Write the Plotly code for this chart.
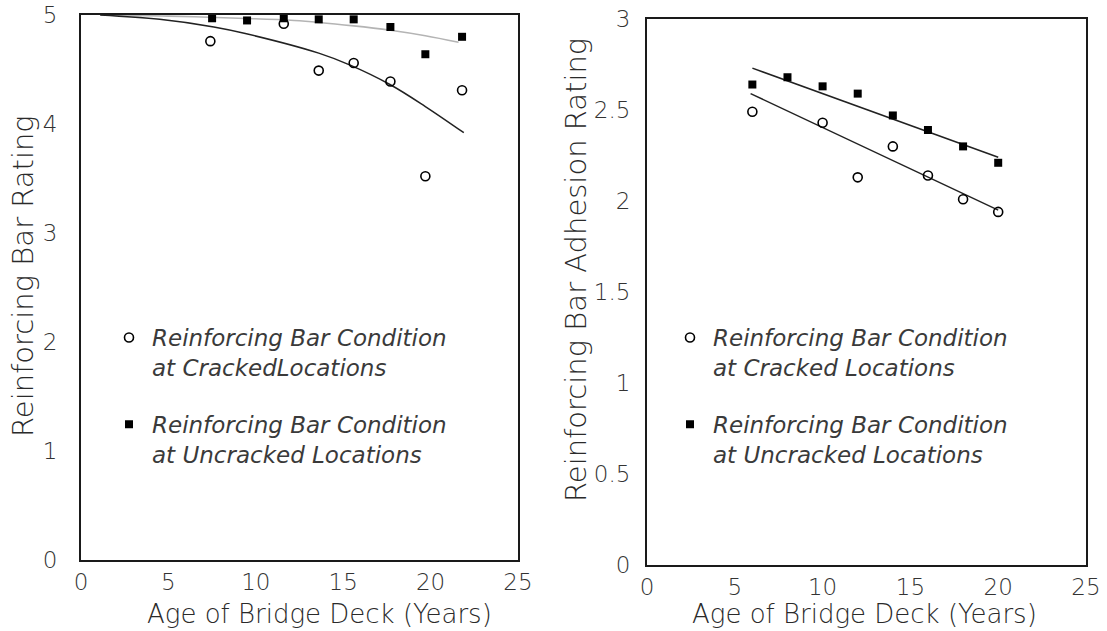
import plotly.graph_objects as go

# ---------------- data ----------------
# Left panel: Reinforcing bar rating
left_age_cracked = [7.4, 11.6, 13.6, 15.6, 17.7, 19.7, 21.8]
left_rating_cracked = [4.76, 4.92, 4.49, 4.56, 4.39, 3.52, 4.31]
left_age_uncracked = [7.5, 9.5, 11.6, 13.6, 15.6, 17.7, 19.7, 21.8]
left_rating_uncracked = [4.97, 4.95, 4.97, 4.96, 4.96, 4.89, 4.64, 4.80]
# fitted curves
left_fit_cracked_x = [1.1, 4.5, 7.6, 9.4, 13.6, 15.4, 17.7, 19.7, 21.9]
left_fit_cracked_y = [5.00, 4.96, 4.89, 4.83, 4.65, 4.54, 4.36, 4.16, 3.92]
left_fit_uncracked_x = [1.1, 5.0, 9.0, 12.2, 15.6, 17.7, 19.7, 21.6]
left_fit_uncracked_y = [5.00, 4.99, 4.97, 4.95, 4.90, 4.86, 4.81, 4.75]

# Right panel: Reinforcing bar adhesion rating
right_age_cracked = [6, 10, 12, 14, 16, 18, 20]
right_rating_cracked = [2.49, 2.43, 2.13, 2.30, 2.14, 2.01, 1.94]
right_age_uncracked = [6, 8, 10, 12, 14, 16, 18, 20]
right_rating_uncracked = [2.64, 2.68, 2.63, 2.59, 2.47, 2.39, 2.30, 2.21]
right_fit_cracked_x = [5.9, 20.0]
right_fit_cracked_y = [2.59, 1.95]
right_fit_uncracked_x = [6.0, 20.0]
right_fit_uncracked_y = [2.73, 2.24]

x_ticks = [0, 5, 10, 15, 20, 25]
left_y_ticks = [0, 1, 2, 3, 4, 5]
right_y_ticks = [0, 0.5, 1, 1.5, 2, 2.5, 3]
right_y_labels = ["0", "0.5", "1", "1.5", "2", "2.5", "3"]

name_cracked_left = "Reinforcing Bar Condition<br>at CrackedLocations"
name_uncracked_left = "Reinforcing Bar Condition<br>at Uncracked Locations"
name_cracked_right = "Reinforcing Bar Condition<br>at Cracked Locations"
name_uncracked_right = "Reinforcing Bar Condition<br>at Uncracked Locations"

x_title = "Age of Bridge Deck (Years)"
left_y_title = "Reinforcing Bar Rating"
right_y_title = "Reinforcing Bar Adhesion Rating"

# ---------------- styles ----------------
FONT = "DejaVu Sans"
TXT = "#2a2a2a"
W, H = 1107, 631


def px(xp):
    return xp / W


def py(yp):
    return (H - yp) / H


fig = go.Figure()

circ = dict(symbol="circle-open", size=9, color="black", line=dict(width=1.6, color="black"))
sq = dict(symbol="square", size=8, color="black", line=dict(width=0))

# left fits
fig.add_trace(go.Scatter(x=left_fit_uncracked_x, y=left_fit_uncracked_y, mode="lines",
                         line=dict(color="#b4b4b4", width=1.6, shape="spline"),
                         showlegend=False, xaxis="x", yaxis="y", hoverinfo="skip"))
fig.add_trace(go.Scatter(x=left_fit_cracked_x, y=left_fit_cracked_y, mode="lines",
                         line=dict(color="#222222", width=1.5, shape="spline"),
                         showlegend=False, xaxis="x", yaxis="y", hoverinfo="skip"))
# left points
fig.add_trace(go.Scatter(x=left_age_uncracked, y=left_rating_uncracked, mode="markers",
                         marker=sq, name=name_uncracked_left, legend="legend",
                         legendgroup="lu", legendrank=2, xaxis="x", yaxis="y"))
fig.add_trace(go.Scatter(x=left_age_cracked, y=left_rating_cracked, mode="markers",
                         marker=circ, name=name_cracked_left, legend="legend",
                         legendgroup="lc", legendrank=1, xaxis="x", yaxis="y"))

# right fits
fig.add_trace(go.Scatter(x=right_fit_uncracked_x, y=right_fit_uncracked_y, mode="lines",
                         line=dict(color="#222222", width=1.5),
                         showlegend=False, xaxis="x2", yaxis="y2", hoverinfo="skip"))
fig.add_trace(go.Scatter(x=right_fit_cracked_x, y=right_fit_cracked_y, mode="lines",
                         line=dict(color="#222222", width=1.5),
                         showlegend=False, xaxis="x2", yaxis="y2", hoverinfo="skip"))
# right points
fig.add_trace(go.Scatter(x=right_age_uncracked, y=right_rating_uncracked, mode="markers",
                         marker=sq, name=name_uncracked_right, legend="legend2",
                         legendgroup="ru", legendrank=2, xaxis="x2", yaxis="y2"))
fig.add_trace(go.Scatter(x=right_age_cracked, y=right_rating_cracked, mode="markers",
                         marker=circ, name=name_cracked_right, legend="legend2",
                         legendgroup="rc", legendrank=1, xaxis="x2", yaxis="y2"))

axis_common = dict(showgrid=False, zeroline=False, showline=True, mirror=True,
                   linecolor="#1a1a1a", linewidth=2, ticks="", automargin=False,
                   ticklabeloverflow="allow",
                   tickfont=dict(family=FONT, size=23, color="#333333", weight=300))

legend_common = dict(xanchor="left", yanchor="top", bgcolor="rgba(0,0,0,0)",
                     tracegroupgap=24, valign="top", itemwidth=36,
                     font=dict(family=FONT, size=23, color="#3a3a3a", style="italic", weight=300))

fig.update_layout(
    width=W, height=H,
    margin=dict(l=0, r=0, t=0, b=0, pad=0, autoexpand=False),
    paper_bgcolor="white", plot_bgcolor="white",
    font=dict(family=FONT, color=TXT),
    xaxis=dict(axis_common, domain=[px(81), px(518)], range=[0, 25],
               tickvals=x_ticks, ticklabelstandoff=0, anchor="y"),
    yaxis=dict(axis_common, domain=[py(560), py(15)], range=[0, 5],
               tickvals=left_y_ticks, ticklabelstandoff=17, anchor="x"),
    xaxis2=dict(axis_common, domain=[px(647), px(1086)], range=[0, 25],
                tickvals=x_ticks, ticklabelstandoff=0, anchor="y2"),
    yaxis2=dict(axis_common, domain=[py(565), py(19)], range=[0, 3],
                tickvals=right_y_ticks, ticktext=right_y_labels,
                ticklabelstandoff=10, anchor="x2"),
    legend=dict(legend_common, x=px(106), y=py(316)),
    legend2=dict(legend_common, x=px(667), y=py(316)),
    showlegend=True,
)

xt_font = dict(family=FONT, size=26, color=TXT, weight=300)
yt_font = dict(family=FONT, size=29, color=TXT, weight=300)
fig.add_annotation(text=x_title, xref="paper", yref="paper", x=px(319), y=py(614),
                   showarrow=False, font=xt_font, xanchor="center", yanchor="middle")
fig.add_annotation(text=x_title, xref="paper", yref="paper", x=px(864), y=py(614),
                   showarrow=False, font=xt_font, xanchor="center", yanchor="middle")
fig.add_annotation(text=left_y_title, xref="paper", yref="paper", x=px(23), y=py(276),
                   showarrow=False, font=yt_font, textangle=-90, xanchor="center", yanchor="middle")
fig.add_annotation(text=right_y_title, xref="paper", yref="paper", x=px(576), y=py(270),
                   showarrow=False, font=yt_font, textangle=-90, xanchor="center", yanchor="middle")

# remove the default page margin so the figure fills the browser window exactly
fig.write_html("out.html", config={"displayModeBar": False},
               post_script="document.body.style.margin='0px';")
